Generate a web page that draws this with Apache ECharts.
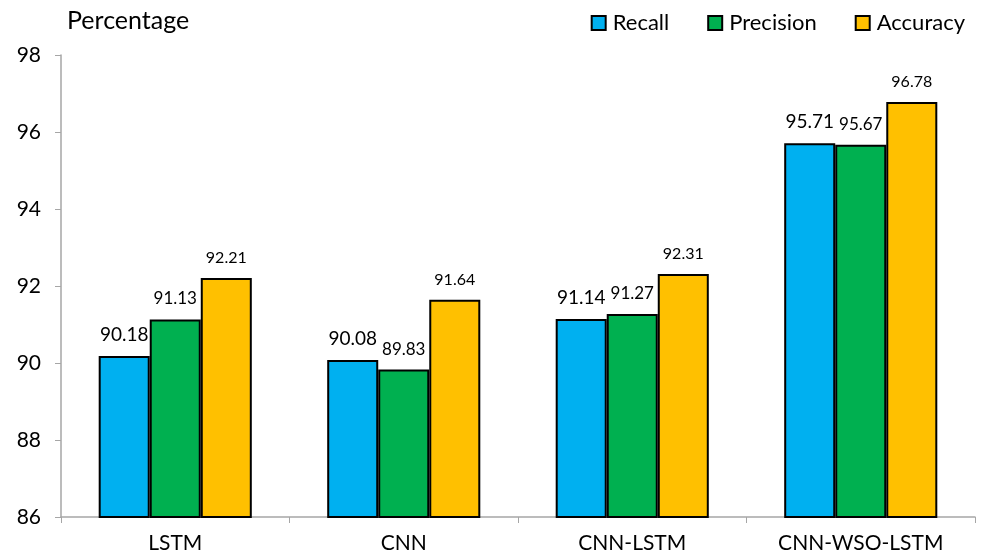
<!DOCTYPE html>
<html>
<head>
<meta charset="utf-8">
<script src="https://cdn.jsdelivr.net/npm/echarts@6/dist/echarts.min.js"></script>
<style>
  html, body { margin: 0; padding: 0; background: #fff; }
  #chart { width: 982px; height: 558px; }
</style>
</head>
<body>
<div id="chart"></div>
<script>
// Model comparison: recall, precision and accuracy (%)
const categories = ['LSTM', 'CNN', 'CNN-LSTM', 'CNN-WSO-LSTM'];
const recall = [90.18, 90.08, 91.14, 95.71];
const precision = [91.13, 89.83, 91.27, 95.67];
const accuracy = [92.21, 91.64, 92.31, 96.78];
const yTicks = { min: 86, max: 98, interval: 2 };

const FONT = 'Lato, "Open Sans", "Noto Sans", sans-serif';

function barSeries(name, data, color, labelSize) {
  return {
    name: name,
    type: 'bar',
    data: data,
    barGap: '0%',
    barCategoryGap: '33%',
    itemStyle: { color: color, borderColor: '#000', borderWidth: 2 },
    label: {
      show: true,
      position: 'top',
      distance: 12,
      color: '#000',
      fontFamily: FONT,
      fontSize: labelSize,
      formatter: p => p.value.toFixed(2)
    }
  };
}

const chart = echarts.init(document.getElementById('chart'));
chart.setOption({
  animation: false,
  backgroundColor: '#fff',
  grid: { left: 61, right: 7, top: 55, bottom: 41 },
  title: {
    text: 'Percentage',
    left: 62,
    top: 3,
    textStyle: { fontFamily: FONT, fontSize: 25, fontWeight: 'normal', color: '#000' }
  },
  legend: {
    right: 12,
    top: 7,
    itemWidth: 14,
    itemHeight: 14,
    itemGap: 38,
    icon: 'rect',
    textStyle: { fontFamily: FONT, fontSize: 22, color: '#000', padding: [0, 0, 0, 2] },
    data: ['Recall', 'Precision', 'Accuracy']
  },
  xAxis: {
    type: 'category',
    data: categories,
    axisLine: { lineStyle: { color: '#a6a6a6', width: 1.5 } },
    axisTick: { show: true, length: 6, lineStyle: { color: '#a6a6a6' } },
    axisLabel: { fontFamily: FONT, fontSize: 21, color: '#000', margin: 16 }
  },
  yAxis: {
    type: 'value',
    min: yTicks.min,
    max: yTicks.max,
    interval: yTicks.interval,
    axisLine: { show: true, lineStyle: { color: '#a6a6a6', width: 1.5 } },
    axisTick: { show: true, length: 6, lineStyle: { color: '#a6a6a6' } },
    splitLine: { show: false },
    axisLabel: { fontFamily: FONT, fontSize: 21, color: '#000', margin: 20 }
  },
  series: [
    barSeries('Recall', recall, '#00B0F0', 19),
    barSeries('Precision', precision, '#00B050', 17),
    barSeries('Accuracy', accuracy, '#FFC000', 16)
  ]
});
</script>
</body>
</html>
